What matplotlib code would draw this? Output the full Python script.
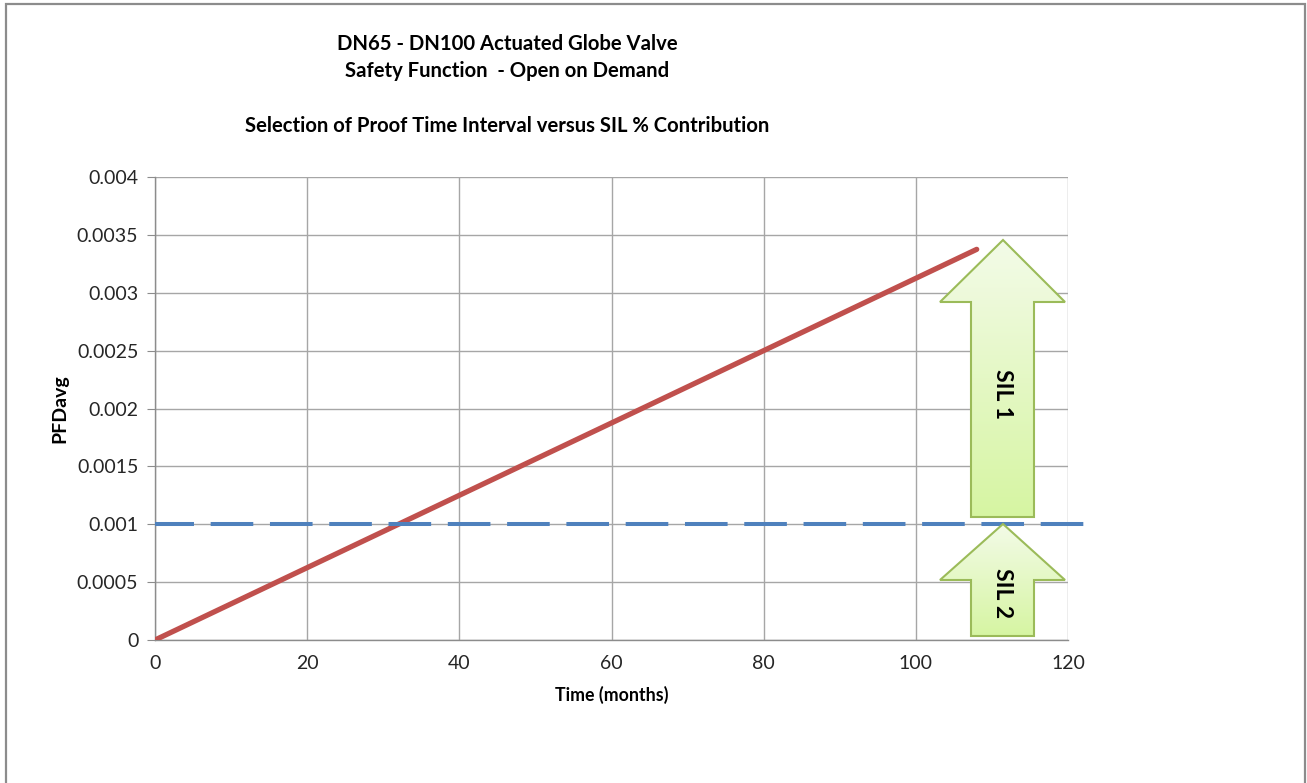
import matplotlib
matplotlib.use("Agg")
import matplotlib.pyplot as plt
import numpy as np
from matplotlib.patches import Polygon, Rectangle
from matplotlib.colors import LinearSegmentedColormap

# ---- data ----
time_months = [0, 12, 24, 36, 48, 60, 72, 84, 96, 108]
pfd_avg = [0.0, 0.000375, 0.00075, 0.001125, 0.0015, 0.001875, 0.00225, 0.002625, 0.003, 0.003375]
sil_limit_x = [0, 122.3]
sil_limit_y = [0.001, 0.001]
x_ticks = [0, 20, 40, 60, 80, 100, 120]
y_ticks = [0, 0.0005, 0.001, 0.0015, 0.002, 0.0025, 0.003, 0.0035, 0.004]
y_tick_labels = ["0", "0.0005", "0.001", "0.0015", "0.002", "0.0025", "0.003", "0.0035", "0.004"]
x_tick_labels = ["0", "20", "40", "60", "80", "100", "120"]

plt.rcParams['font.family'] = ['Lato', 'DejaVu Sans']

W, H = 1307, 783
fig = plt.figure(figsize=(W / 100, H / 100), dpi=100)

# outer frame
fig.patches.append(Rectangle((6 / W, -0.01), (1305 - 6) / W, 1 - 4 / H + 0.01,
                             transform=fig.transFigure, fill=False,
                             edgecolor='#8c8c8c', linewidth=1.6))

ax = fig.add_axes([155 / W, 1 - 640 / H, (1068 - 155) / W, (640 - 177) / H])

grid_c = '#a6a6a6'
ax.set_xlim(0, 120)
ax.set_ylim(0, 0.004)
ax.set_xticks(x_ticks)
ax.set_xticklabels(x_tick_labels)
ax.set_yticks(y_ticks)
ax.set_yticklabels(y_tick_labels)
ax.grid(True, color=grid_c, linewidth=1.0)
ax.set_axisbelow(True)
for s in ['top', 'right']:
    ax.spines[s].set_visible(False)
for s in ['left', 'bottom']:
    ax.spines[s].set_color('#8c8c8c')
    ax.spines[s].set_linewidth(1.0)
ax.tick_params(axis='y', length=6, color='#8c8c8c', labelsize=14, labelcolor='#262626', pad=6)
ax.tick_params(axis='x', length=0, labelsize=14, labelcolor='#262626', pad=11)

ax.plot(time_months, pfd_avg, color='#c0504d', linewidth=3.8, solid_capstyle='round', zorder=4)
ax.plot(sil_limit_x, sil_limit_y, color='#4f81bd', linewidth=2.9,
        linestyle=(0.9, (10.58, 4.14)), dash_capstyle='butt',
        clip_on=False, zorder=5)

ax.set_xlabel('Time (months)', fontsize=12.8, fontweight='bold', labelpad=10)
ax.set_ylabel('PFDavg', fontsize=14, fontweight='bold', labelpad=6)

# arrows (pixel geometry converted to data coords)
def px2d(px, py):
    return ((px - 155) / (1068 - 155) * 120, (640 - py) / (640 - 177) * 0.004)

cmap = LinearSegmentedColormap.from_list('g', ['#f3fbe8', '#d6f5a2'])

def arrow(tip_y, head_y, bot_y, label, label_y):
    pts = [(1003, tip_y), (1065, head_y), (1034, head_y), (1034, bot_y),
           (971, bot_y), (971, head_y), (940, head_y)]
    dpts = [px2d(*p) for p in pts]
    poly = Polygon(dpts, closed=True, facecolor='none', edgecolor='#9bbb59',
                   linewidth=1.5, zorder=7, clip_on=False)
    ax.add_patch(poly)
    x0, y1 = px2d(940, tip_y)
    x1, y0 = px2d(1065, bot_y)
    grad = np.linspace(0, 1, 256).reshape(-1, 1)
    im = ax.imshow(grad, cmap=cmap, extent=[x0, x1, y0, y1], origin='upper',
                   aspect='auto', zorder=6, clip_on=True)
    clip = Polygon(dpts, closed=True, transform=ax.transData)
    im.set_clip_path(clip)
    tx, ty = px2d(1003, label_y)
    ax.text(tx, ty, label, rotation=-90, ha='center', va='center', fontsize=16.5,
            fontweight='bold', color='black', zorder=8)

arrow(240, 302, 517, 'SIL 1', 394)
arrow(524, 580, 636, 'SIL 2', 593)
ax.set_xlim(0, 120)
ax.set_ylim(0, 0.004)

fig.text(507 / W, 1 - 44 / H, 'DN65 - DN100 Actuated Globe Valve', ha='center', va='center',
         fontsize=14.6, fontweight='bold')
fig.text(507 / W, 1 - 71 / H, 'Safety Function  - Open on Demand', ha='center', va='center',
         fontsize=14.6, fontweight='bold')
fig.text(507 / W, 1 - 126 / H, 'Selection of Proof Time Interval versus SIL % Contribution',
         ha='center', va='center', fontsize=14.6, fontweight='bold')

fig.savefig('out.png', dpi=100)
